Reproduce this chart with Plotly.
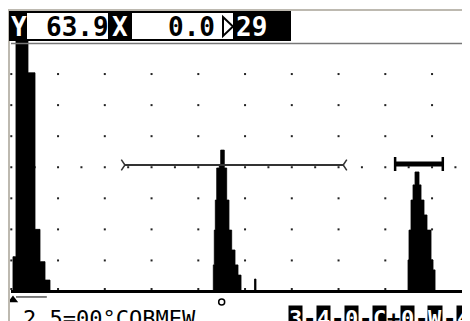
import plotly.graph_objects as go

# A-scan envelope: x in screen divisions, amplitude in % full screen height
echo_x = [0.036, 0.100, 0.357, 0.507, 0.614, 0.721, 0.828,
          4.321, 4.342, 4.364, 4.394, 4.449, 4.479, 4.556, 4.607, 4.656, 4.714, 4.785, 4.849, 4.914,
          5.202, 5.234,
          8.486, 8.507, 8.550, 8.593, 8.636, 8.721, 8.764, 8.828, 8.892, 8.978, 9.021, 9.064,
          9.812]
echo_amp = [14, 101, 88, 25, 12, 4.6, 0,
            10.7, 24.7, 36.8, 49.7, 50.5, 56.9, 49.7, 36.8, 24.7, 16.7, 10.7, 6.6, 0,
            5.0, 0,
            12.7, 24.7, 36.8, 42.9, 48.1, 42.9, 36.8, 30.8, 24.7, 12.7, 8.7, 0,
            0]

# gates (start / end in divisions, level in %)
gate_a = [2.43, 7.10]
gate_a_level = 50.9
gate_b = [8.21, 9.23]
gate_b_level = 51.3

# graticule
grid_cols = [0, 1, 2, 3, 4, 5, 6, 7, 8, 9, 10]
grid_rows = [1.0, 12.5, 25, 37.5, 50, 62.5, 75, 87.5]
half_cols = [0.5, 1.5, 2.5, 3.5, 4.5, 5.5, 6.5, 7.5, 8.5, 9.5]

# readouts
amp_label = "Y"
amp_value = "63.9"
path_label = "X"
path_value = "0.0"
depth_value = "29"
status_left = "2.5=00°COBMEW"
status_right = ["3", "-", "4", "-", "0", "-", "C", "+", "0", "-", "W", "-", "4"]

# page body keeps an 8px margin, so the figure sits at (8, 8) in the window
OFF = 8
W, H = 470 - OFF, 321 - OFF
MONO = "DejaVu Sans Mono"


def px(x):
    return (x - OFF) / W


def py(y):
    return 1 - (y - OFF) / H


# closed step outline of the echo envelope
step_x, step_y = [echo_x[0]], [0]
prev = 0
for xv, yv in zip(echo_x, echo_amp):
    step_x += [xv, xv]
    step_y += [prev, yv]
    prev = yv
step_x += [echo_x[-1], echo_x[0]]
step_y += [0, 0]

fig = go.Figure()

gx = [c for c in grid_cols for r in grid_rows] + half_cols
gy = [r for c in grid_cols for r in grid_rows] + [50] * len(half_cols)
fig.add_trace(go.Scatter(x=gx, y=gy, mode="markers",
                         marker=dict(symbol="square", size=2, color="#222"),
                         hoverinfo="skip", showlegend=False))

fig.add_trace(go.Scatter(x=step_x, y=step_y, mode="lines",
                         fill="toself", fillcolor="black",
                         line=dict(color="black", width=0.8, simplify=False),
                         hoverinfo="skip", showlegend=False))

fig.add_trace(go.Scatter(x=gate_a, y=[gate_a_level] * 2, mode="lines+markers",
                         line=dict(color="#333", width=2),
                         marker=dict(symbol=["y-right-open", "y-left-open"], size=9,
                                     color="#333", line=dict(color="#333", width=1.5)),
                         hoverinfo="skip", showlegend=False))

fig.add_trace(go.Scatter(x=gate_b, y=[gate_b_level] * 2, mode="lines+markers",
                         line=dict(color="black", width=5),
                         marker=dict(symbol="line-ns", size=10, color="black",
                                     line=dict(color="black", width=2.5)),
                         hoverinfo="skip", showlegend=False))

# markers under the baseline
fig.add_trace(go.Scatter(x=[0.036], y=[-3.4], mode="markers",
                         marker=dict(symbol="triangle-up", size=9, color="black"),
                         hoverinfo="skip", showlegend=False))
fig.add_trace(go.Scatter(x=[0.10, 0.76], y=[-2.2, -2.2], mode="lines",
                         line=dict(color="black", width=1),
                         hoverinfo="skip", showlegend=False))
fig.add_trace(go.Scatter(x=[4.50], y=[-4.2], mode="markers",
                         marker=dict(symbol="circle-open", size=6, color="black",
                                     line=dict(color="black", width=1.5)),
                         hoverinfo="skip", showlegend=False))

shapes = [
    # window borders
    dict(type="line", xref="paper", yref="paper", x0=px(8), x1=1, y0=py(10), y1=py(10),
         line=dict(color="#bdb9b0", width=2)),
    dict(type="line", xref="paper", yref="paper", x0=px(9), x1=px(9), y0=py(10), y1=0,
         line=dict(color="#bdb9b0", width=2)),
    # top of screen area
    dict(type="line", xref="paper", yref="paper", x0=px(11), x1=1, y0=py(43.5), y1=py(43.5),
         line=dict(color="#777", width=1.5)),
    # baseline
    dict(type="line", xref="paper", yref="y", x0=px(11), x1=1, y0=0, y1=0,
         line=dict(color="black", width=3)),
    # header bar
    dict(type="rect", xref="paper", yref="paper", x0=px(10), x1=px(290), y0=py(40), y1=py(12),
         line=dict(color="black", width=2), fillcolor="white"),
    dict(type="rect", xref="paper", yref="paper", x0=px(10), x1=px(27), y0=py(40), y1=py(12),
         line=dict(width=0), fillcolor="black"),
    dict(type="rect", xref="paper", yref="paper", x0=px(108), x1=px(132), y0=py(40), y1=py(12),
         line=dict(width=0), fillcolor="black"),
    dict(type="rect", xref="paper", yref="paper", x0=px(233), x1=px(290), y0=py(40), y1=py(12),
         line=dict(width=0), fillcolor="black"),
    dict(type="path", xref="paper", yref="paper",
         path=f"M {px(223)},{py(17)} L {px(233)},{py(26.5)} L {px(223)},{py(36)} Z",
         line=dict(color="black", width=2), fillcolor="white"),
]

annotations = [
    dict(text=f"<b>{amp_label}</b>", x=px(18.5), y=py(26.5), xanchor="center",
         font=dict(color="white")),
    dict(text=f"<b>{amp_value}</b>", x=px(44), y=py(26.5), xanchor="left",
         font=dict(color="black")),
    dict(text=f"<b>{path_label}</b>", x=px(120), y=py(26.5), xanchor="center",
         font=dict(color="white")),
    dict(text=f"<b>{path_value}</b>", x=px(166), y=py(26.5), xanchor="left",
         font=dict(color="black")),
    dict(text=f"<b>{depth_value}</b>", x=px(234), y=py(26.5), xanchor="left",
         font=dict(color="white")),
    dict(text=status_left, x=px(21), y=py(318), xanchor="left",
         font=dict(color="black", size=22)),
]
for i, ch in enumerate(status_right):
    boxed = ch not in "-+"
    annotations.append(dict(
        text=f"<b>{ch}</b>", x=px(295 + 14 * i), y=py(318), xanchor="center",
        font=dict(color="white" if boxed else "black", size=22),
        bgcolor="black" if boxed else None, borderpad=0,
    ))
for a in annotations:
    a.update(xref="paper", yref="paper", yanchor="middle", showarrow=False)
    a["font"].setdefault("size", 26)
    a["font"]["family"] = MONO

fig.update_layout(
    width=W,
    height=H,
    margin=dict(l=0, r=0, t=0, b=0),
    paper_bgcolor="white",
    plot_bgcolor="white",
    xaxis=dict(range=[-0.0706, 9.8118], visible=False, fixedrange=True),
    yaxis=dict(range=[-11.871, 114.08], visible=False, fixedrange=True),
    shapes=shapes,
    annotations=annotations,
    showlegend=False,
)

fig.write_html("out.html")
